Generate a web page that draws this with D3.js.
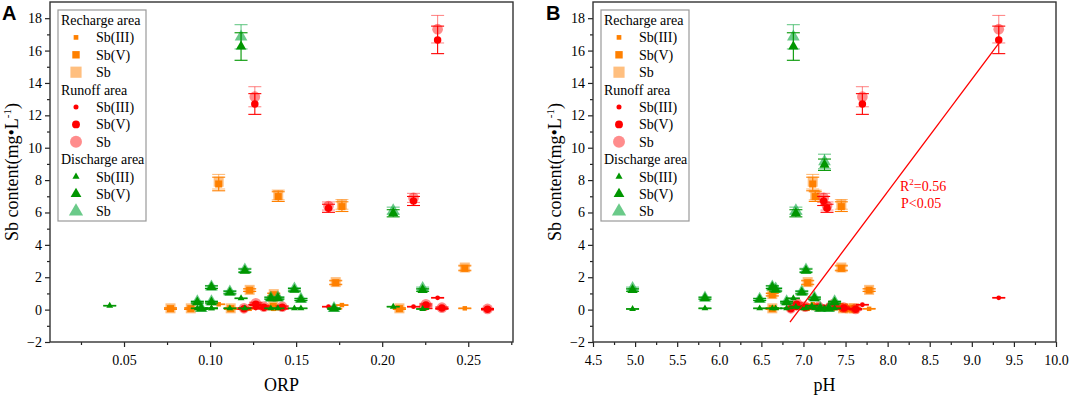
<!DOCTYPE html>
<html>
<head>
<meta charset="utf-8">
<script src="https://cdn.jsdelivr.net/npm/d3@7"></script>
<style>
  body { margin: 0; background: #fff; }
  svg { display: block; }
  text { font-family: "Liberation Serif", "Times New Roman", serif; fill: #000; }
</style>
</head>
<body>
<svg id="chart" width="1072" height="398"></svg>
<script>
// Recharge area (orange squares)
const rechargeORP = [0.105, 0.1396, 0.1766, 0.248, 0.173, 0.123, 0.137, 0.077, 0.0888, 0.112, 0.1367, 0.210];
const rechargePH  = [7.11, 7.14, 7.45, 7.45, 7.05, 7.78, 6.63, 6.63, 7.47, 7.60, 7.35, 7.55];
const rechargeSb3 = [0.33, 0.10, 0.28, 0.08, 0.05, 0.05, 0.05, 0.03, 0.03, 0.03, 0.05, 0.03];
const rechargeSb5 = [7.76, 6.98, 6.36, 2.55, 1.66, 1.20, 0.92, 0.06, 0.06, 0.06, 0.20, 0.06];
const rechargeSb  = [7.90, 7.08, 6.50, 2.60, 1.70, 1.22, 0.96, 0.08, 0.08, 0.08, 0.24, 0.08];
const rechargeErr5 = [0.42, 0.30, 0.30, 0.15, 0.12, 0.08, 0.08, 0.05, 0.05, 0.05, 0.05, 0.05];
const rechargeErrSb = [0.45, 0.30, 0.30, 0.15, 0.12, 0.08, 0.08, 0.05, 0.05, 0.05, 0.05, 0.05];

// Runoff area (red circles)
const runoffORP = [0.126, 0.2322, 0.1688, 0.2182, 0.1197, 0.1266, 0.1313, 0.1419, 0.2254, 0.2347, 0.2612];
const runoffPH  = [7.70, 9.32, 7.28, 7.24, 6.85, 6.92, 7.02, 7.18, 7.35, 7.48, 7.62];
const runoffSb3 = [0.30, 0.73, 0.18, 0.18, 0.05, 0.10, 0.05, 0.05, 0.08, 0.05, 0.02];
const runoffSb5 = [12.70, 16.66, 6.26, 6.71, 0.06, 0.33, 0.15, 0.15, 0.28, 0.10, 0.03];
const runoffSb  = [13.15, 17.32, 6.40, 6.90, 0.08, 0.39, 0.18, 0.18, 0.33, 0.12, 0.04];
const runoffErr5 = [0.64, 0.85, 0.25, 0.28, 0.05, 0.08, 0.06, 0.06, 0.06, 0.05, 0.04];
const runoffErrSb = [0.62, 0.85, 0.25, 0.28, 0.05, 0.08, 0.06, 0.06, 0.06, 0.05, 0.04];

// Discharge area (green triangles); null ORP = not shown in panel A
const dischargeORP = [0.118, 0.2064, null, 0.1202, 0.1008, 0.149, 0.2235, 0.1115, 0.1353, 0.1528, 0.1394, 0.0926, 0.1008, 0.0949, 0.172, 0.0417];
const dischargePH  = [6.88, 6.91, 7.25, 7.03, 6.63, 6.67, 4.97, 6.98, 5.83, 6.48, 7.13, 7.37, 6.80, 7.20, 7.30, 7.10];
const dischargeSb3 = [0.70, 0.18, 0.08, 0.08, 0.08, 0.08, 0.04, 0.08, 0.08, 0.08, 0.08, 0.08, 0.08, 0.04, 0.04, 0.24];
const dischargeSb5 = [16.25, 5.95, 8.95, 2.40, 1.38, 1.22, 1.21, 1.05, 0.70, 0.62, 0.70, 0.45, 0.45, 0.06, 0.06, null];
const dischargeSb  = [16.85, 6.11, 9.15, 2.45, 1.41, 1.28, 1.31, 1.10, 0.73, 0.65, 0.74, 0.49, 0.49, 0.08, 0.08, null];
const dischargeErr5 = [0.85, 0.22, 0.35, 0.10, 0.08, 0.08, 0.08, 0.08, 0.06, 0.06, 0.06, 0.05, 0.05, 0.04, 0.04, null];
const dischargeErrSb = [0.75, 0.22, 0.45, 0.10, 0.08, 0.08, 0.08, 0.08, 0.06, 0.06, 0.06, 0.05, 0.05, 0.04, 0.04, null];

// linear fit shown in panel B
const fitPH = [6.84, 9.32];
const fitSb = [-0.77, 16.45];

const yTicks = [-2, 0, 2, 4, 6, 8, 10, 12, 14, 16, 18];
const yMinor = [-1, 1, 3, 5, 7, 9, 11, 13, 15, 17];
const orpTicks = [0.05, 0.10, 0.15, 0.20, 0.25];
const orpMinor = [0.025, 0.075, 0.125, 0.175, 0.225, 0.275];
const phTicks = [4.5, 5.0, 5.5, 6.0, 6.5, 7.0, 7.5, 8.0, 8.5, 9.0, 9.5, 10.0];
const phMinor = [4.75, 5.25, 5.75, 6.25, 6.75, 7.25, 7.75, 8.25, 8.75, 9.25, 9.75];

const areas = [
  {name: 'Recharge area', shape: d3.symbolSquare, color: '#ff8000', light: '#ff8000', lightOp: 0.5,
   orp: rechargeORP, ph: rechargePH, sb3: rechargeSb3, sb5: rechargeSb5, sb: rechargeSb, e5: rechargeErr5, eSb: rechargeErrSb,
   sizes: [20, 50, 100]},
  {name: 'Runoff area', shape: d3.symbolCircle, color: '#ff0000', light: '#ff0000', lightOp: 0.45,
   orp: runoffORP, ph: runoffPH, sb3: runoffSb3, sb5: runoffSb5, sb: runoffSb, e5: runoffErr5, eSb: runoffErrSb,
   sizes: [18, 44, 90]},
  {name: 'Discharge area', shape: d3.symbolTriangle, color: '#009600', light: '#1aad4a', lightOp: 0.65,
   orp: dischargeORP, ph: dischargePH, sb3: dischargeSb3, sb5: dischargeSb5, sb: dischargeSb, e5: dischargeErr5, eSb: dischargeErrSb,
   sizes: [20, 46, 70]}
];

const svg = d3.select('#chart');
const plotTop = 2, plotBottom = 342;
const y = d3.scaleLinear().domain([-2, 19]).range([plotBottom, plotTop]);

function drawPanel(opt) {
  const x = d3.scaleLinear().domain(opt.domain).range([opt.left, opt.right]);
  const g = svg.append('g');

  // axes
  g.append('g')
    .attr('transform', `translate(${opt.left},0)`)
    .call(d3.axisLeft(y).tickValues(yMinor).tickSize(3).tickFormat(''))
    .call(a => a.select('.domain').remove());
  g.append('g')
    .attr('transform', `translate(${opt.left},0)`)
    .call(d3.axisLeft(y).tickValues(yTicks).tickSize(5).tickPadding(3).tickFormat(d3.format('d')))
    .call(a => a.select('.domain').remove())
    .call(a => a.selectAll('text').style('font-size', '14px').style('font-family', '"Liberation Serif", serif'));
  g.append('g')
    .attr('transform', `translate(0,${plotBottom})`)
    .call(d3.axisBottom(x).tickValues(opt.minor.filter(v => v <= opt.domain[1])).tickSize(3).tickFormat(''))
    .call(a => a.select('.domain').remove());
  g.append('g')
    .attr('transform', `translate(0,${plotBottom})`)
    .call(d3.axisBottom(x).tickValues(opt.ticks).tickSize(5).tickPadding(8).tickFormat(d3.format(opt.fmt)))
    .call(a => a.select('.domain').remove())
    .call(a => a.selectAll('text').style('font-size', '14px').style('font-family', '"Liberation Serif", serif'));
  g.selectAll('.tick line').attr('stroke', '#222').attr('stroke-width', 1.2);

  g.append('rect')
    .attr('x', opt.left).attr('y', plotTop)
    .attr('width', opt.right - opt.left).attr('height', plotBottom - plotTop)
    .attr('fill', 'none').attr('stroke', '#333').attr('stroke-width', 1.4);

  const plot = g.append('g');
  areas.forEach(area => {
    const xs = area[opt.key];
    const layers = [
      {vals: area.sb, errs: area.eSb, fill: area.light, op: area.lightOp, size: area.sizes[2]},
      {vals: area.sb5, errs: area.e5, fill: area.color, op: 1, size: area.sizes[1]},
      {vals: area.sb3, errs: null, fill: area.color, op: 1, size: area.sizes[0]}
    ];
    layers.forEach(layer => {
      const pts = xs.map((xv, i) => ({x: xv, v: layer.vals[i], e: layer.errs ? layer.errs[i] : 0.02}))
        .filter(d => d.x != null && d.v != null);
      const eb = plot.append('g')
        .attr('stroke', layer.fill).attr('stroke-opacity', layer.op).attr('stroke-width', 1.1);
      pts.forEach(d => {
        const cx = x(d.x), y1 = y(d.v + d.e), y2 = y(d.v - d.e);
        eb.append('line').attr('x1', cx).attr('x2', cx).attr('y1', y1).attr('y2', y2);
        eb.append('line').attr('x1', cx - 6.5).attr('x2', cx + 6.5).attr('y1', y1).attr('y2', y1);
        eb.append('line').attr('x1', cx - 6.5).attr('x2', cx + 6.5).attr('y1', y2).attr('y2', y2);
      });
      plot.append('g').selectAll('path')
        .data(pts)
        .join('path')
          .attr('d', d3.symbol(area.shape, layer.size))
          .attr('transform', d => `translate(${x(d.x)},${y(d.v)})`)
          .attr('fill', layer.fill)
          .attr('fill-opacity', layer.op);
    });
  });

  if (opt.fit) {
    const line = d3.line().x(d => x(d[0])).y(d => y(d[1]));
    plot.append('path')
      .attr('d', line(fitPH.map((p, i) => [p, fitSb[i]])))
      .attr('fill', 'none').attr('stroke', '#ff0000').attr('stroke-width', 1.3);
    const t = g.append('text').attr('x', 900).attr('y', 191).style('font-size', '14px').style('fill', '#ff0000');
    t.append('tspan').text('R');
    t.append('tspan').attr('dy', -6).style('font-size', '9px').text('2');
    t.append('tspan').attr('dy', 6).text('=0.56');
    g.append('text').attr('x', 901).attr('y', 208).style('font-size', '14px').style('fill', '#ff0000').text('P<0.05');
  }

  // axis titles
  const yl = g.append('text')
    .attr('transform', `translate(${opt.left - 32},172) rotate(-90)`)
    .attr('text-anchor', 'middle').style('font-size', '18px');
  yl.append('tspan').text('Sb content(mg•L');
  yl.append('tspan').attr('dy', -7).style('font-size', '11px').text('-1');
  yl.append('tspan').attr('dy', 7).text(')');

  g.append('text')
    .attr('x', (opt.left + opt.right) / 2).attr('y', 391)
    .attr('text-anchor', 'middle').style('font-size', '18px')
    .text(opt.xlabel);

  g.append('text')
    .attr('x', opt.letterX).attr('y', 20)
    .style('font-family', '"Liberation Sans", Arial, sans-serif')
    .style('font-weight', 'bold').style('font-size', '20px')
    .text(opt.letter);

  // legend
  const lg = g.append('g').attr('transform', `translate(${opt.left + 8},0)`);
  lg.append('rect')
    .attr('x', 0).attr('y', 10).attr('width', 88).attr('height', 211)
    .attr('fill', '#fff').attr('stroke', '#999').attr('stroke-width', 1.2);
  const labels = ['Sb(III)', 'Sb(V)', 'Sb'];
  let row = 0;
  const rowY = r => 20 + r * 17.4;
  areas.forEach(area => {
    lg.append('text').attr('x', 3).attr('y', rowY(row) + 5).style('font-size', '14px').text(area.name);
    row++;
    labels.forEach((lab, k) => {
      const cy = rowY(row);
      const big = k === 2;
      lg.append('path')
        .attr('d', d3.symbol(area.shape, area.sizes[k] * (big ? 1.25 : 1.1)))
        .attr('transform', `translate(18,${cy})`)
        .attr('fill', big ? area.light : area.color)
        .attr('fill-opacity', big ? area.lightOp : 1);
      lg.append('text').attr('x', 38).attr('y', cy + 5).style('font-size', '14px').text(lab);
      row++;
    });
  });
}

drawPanel({left: 50, right: 513, domain: [0.007, 0.276], ticks: orpTicks, minor: orpMinor,
  fmt: '.2f', key: 'orp', xlabel: 'ORP', letter: 'A', letterX: 2, fit: false});
drawPanel({left: 593, right: 1056, domain: [4.5, 10.0], ticks: phTicks, minor: phMinor,
  fmt: '.1f', key: 'ph', xlabel: 'pH', letter: 'B', letterX: 546, fit: true});
</script>
</body>
</html>
